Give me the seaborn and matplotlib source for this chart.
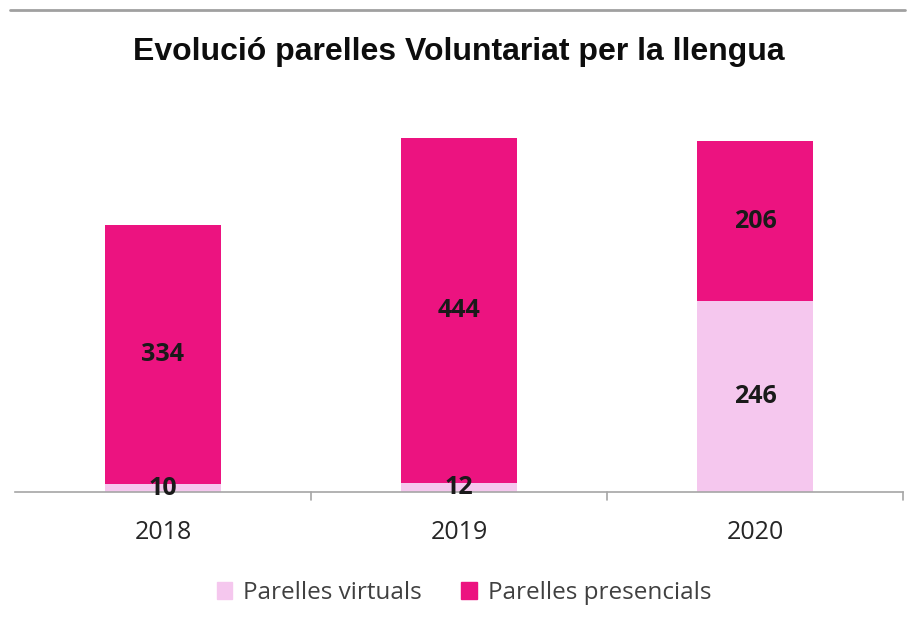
import matplotlib
matplotlib.use("Agg")
import matplotlib.pyplot as plt
import seaborn as sns
import pandas as pd
from matplotlib.lines import Line2D

years = ["2018", "2019", "2020"]
virtuals = [10, 12, 246]
presencials = [334, 444, 206]
series_names = ["Parelles virtuals", "Parelles presencials"]
title = "Evolució parelles Voluntariat per la llengua"

c_virt = "#F5C7EE"
c_pres = "#EC1380"

sns.set_theme(style="white")
plt.rcParams["font.family"] = ["Open Sans", "DejaVu Sans"]

fig = plt.figure(figsize=(9.13, 6.3), dpi=100)
W, H = 913, 630
ax = fig.add_axes([15 / W, (H - 492) / H, (903 - 15) / W, (492 - 104) / H])

df = pd.DataFrame({"year": years, "virt": virtuals, "pres": presencials})
df["total"] = df["virt"] + df["pres"]

sns.barplot(data=df, x="year", y="total", color=c_pres, width=0.395, ax=ax,
            saturation=1, edgecolor="none")
sns.barplot(data=df, x="year", y="virt", color=c_virt, width=0.395, ax=ax,
            saturation=1, edgecolor="none")

ax.set_xlim(-0.5, 2.5)
ax.set_ylim(0, 500)
ax.set_xlabel("")
ax.set_ylabel("")
ax.set_yticks([])
for s in ["top", "left", "right"]:
    ax.spines[s].set_visible(False)
ax.spines["bottom"].set_color("#A6A6A6")
ax.spines["bottom"].set_linewidth(1.2)

ax.set_xticks([0, 1, 2])
ax.set_xticklabels(years, fontsize=18, color="#262626")
ax.tick_params(axis="x", length=0, pad=20)
# boundary ticks
for xb in [0.5, 1.5, 2.5]:
    ax.plot([xb, xb], [0, -0.02], transform=ax.get_xaxis_transform(),
            color="#A6A6A6", lw=1.2, clip_on=False)

lab_font = dict(fontsize=18, fontweight="bold", color="#1a1a1a",
                ha="center", va="center")
for i, (v, p) in enumerate(zip(virtuals, presencials)):
    ax.text(i, v / 2, str(v), **lab_font)
    ax.text(i, v + p / 2, str(p), **lab_font)

fig.text(459 / W, 1 - 52 / H, title, ha="center", va="center",
         fontsize=23, fontweight="bold", family="Liberation Sans", color="#0d0d0d")

fig.add_artist(Line2D([10 / W, 905 / W], [1 - 10 / H, 1 - 10 / H],
                      color="#A0A0A0", lw=2))

handles = [plt.Rectangle((0, 0), 1, 1, color=c_virt),
           plt.Rectangle((0, 0), 1, 1, color=c_pres)]
fig.legend(handles, series_names, loc="center", bbox_to_anchor=(464 / W, 1 - 593 / H),
           ncol=2, frameon=False, fontsize=17.5, handlelength=0.65, handleheight=0.65,
           handletextpad=0.45, columnspacing=1.6, labelcolor="#404040")

fig.savefig("out.png", dpi=100)
